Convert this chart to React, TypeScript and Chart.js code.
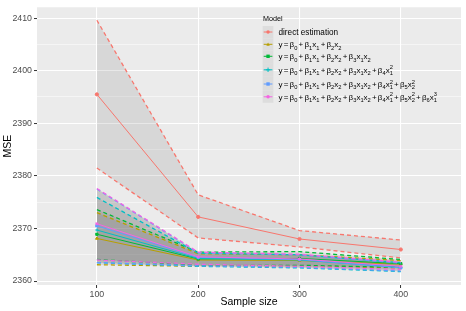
import React, { useEffect, useRef } from "react";
import { Chart, registerables } from "chart.js";

Chart.register(...registerables);

const sampleSizes = [100, 200, 300, 400];

const modelLabels = [
  "direct estimation",
  "y = β_0 + β_1x_1 + β_2x_2",
  "y = β_0 + β_1x_1 + β_2x_2 + β_3x_1x_2",
  "y = β_0 + β_1x_1 + β_2x_2 + β_3x_1x_2 + β_4x_1^2",
  "y = β_0 + β_1x_1 + β_2x_2 + β_3x_1x_2 + β_4x_1^2 + β_5x_2^2",
  "y = β_0 + β_1x_1 + β_2x_2 + β_3x_1x_2 + β_4x_1^2 + β_5x_2^2 + β_6x_1^3",
];

const modelColors = ["#F8766D", "#B79F00", "#00BA38", "#00BFC4", "#619CFF", "#F564E3"];
const modelShapes = ["circle", "triangle", "rect", "cross", "rect", "star"];

const directMean = [2395.5, 2372.2, 2368.0, 2366.0];
const directUpper = [2409.6, 2376.4, 2369.6, 2367.8];
const directLower = [2381.5, 2368.2, 2366.5, 2364.4];

const m1Mean = [2368.1, 2364.0, 2363.9, 2363.2];
const m1Upper = [2373.0, 2365.2, 2365.0, 2363.9];
const m1Lower = [2363.1, 2362.8, 2362.8, 2362.5];

const m2Mean = [2368.9, 2364.2, 2364.3, 2363.3];
const m2Upper = [2373.6, 2365.5, 2365.6, 2364.1];
const m2Lower = [2364.1, 2363.0, 2363.0, 2362.6];

const m3Mean = [2369.7, 2364.3, 2364.0, 2362.6];
const m3Upper = [2375.9, 2365.3, 2365.0, 2363.5];
const m3Lower = [2363.5, 2362.8, 2362.5, 2361.8];

const m4Mean = [2370.5, 2364.5, 2364.1, 2362.5];
const m4Upper = [2377.5, 2365.4, 2365.0, 2363.4];
const m4Lower = [2363.5, 2362.9, 2362.6, 2361.9];

const m5Mean = [2370.9, 2364.6, 2364.2, 2362.8];
const m5Upper = [2377.6, 2365.5, 2365.1, 2363.6];
const m5Lower = [2364.0, 2363.2, 2362.8, 2362.2];

const means = [directMean, m1Mean, m2Mean, m3Mean, m4Mean, m5Mean];
const uppers = [directUpper, m1Upper, m2Upper, m3Upper, m4Upper, m5Upper];
const lowers = [directLower, m1Lower, m2Lower, m3Lower, m4Lower, m5Lower];

const yTicks = [2360, 2365, 2370, 2375, 2380, 2385, 2390, 2395, 2400, 2405, 2410];
const xTicks = [100, 200, 300, 400];

const legendTitle = "Model";
const xTitle = "Sample size";
const yTitle = "MSE";

const FONT = '"Liberation Sans", Arial, sans-serif';
const RIBBON = "rgba(120,120,120,0.17)";

function drawMath(ctx: CanvasRenderingContext2D, label: string, x: number, baseline: number, size: number, spaceW: number) {
  const sub = size * 0.72;
  let cx = x;
  let i = 0;
  while (i < label.length) {
    const ch = label[i];
    if (ch === "_" || ch === "^") {
      const s = label[i + 1];
      let sp = "";
      let adv = 0;
      if (ch === "_" && label[i + 2] === "^") {
        sp = label[i + 3];
        i += 4;
      } else {
        i += 2;
      }
      ctx.font = `${sub}px ${FONT}`;
      if (ch === "_") {
        ctx.fillText(s, cx, baseline + size * 0.28);
        adv = ctx.measureText(s).width;
        if (sp) {
          ctx.fillText(sp, cx, baseline - size * 0.42);
          adv = Math.max(adv, ctx.measureText(sp).width);
        }
      } else {
        ctx.fillText(s, cx, baseline - size * 0.42);
        adv = ctx.measureText(s).width;
      }
      cx += adv;
    } else if (ch === " ") {
      cx += spaceW;
      i += 1;
    } else {
      ctx.font = `${size}px ${FONT}`;
      ctx.fillText(ch, cx, baseline);
      cx += ctx.measureText(ch).width;
      i += 1;
    }
  }
}

function drawShape(ctx: CanvasRenderingContext2D, shape: string, x: number, y: number, color: string) {
  ctx.save();
  ctx.fillStyle = color;
  ctx.strokeStyle = color;
  ctx.lineWidth = 1;
  const r = 1.7;
  ctx.beginPath();
  if (shape === "circle") {
    ctx.arc(x, y, r, 0, Math.PI * 2);
    ctx.fill();
  } else if (shape === "triangle") {
    ctx.moveTo(x, y - r);
    ctx.lineTo(x + r, y + r * 0.8);
    ctx.lineTo(x - r, y + r * 0.8);
    ctx.closePath();
    ctx.fill();
  } else if (shape === "rect") {
    ctx.rect(x - r, y - r, 2 * r, 2 * r);
    ctx.fill();
  } else if (shape === "cross") {
    ctx.moveTo(x - r - 0.5, y);
    ctx.lineTo(x + r + 0.5, y);
    ctx.moveTo(x, y - r - 0.5);
    ctx.lineTo(x, y + r + 0.5);
    ctx.stroke();
  } else {
    ctx.arc(x, y, r, 0, Math.PI * 2);
    ctx.fill();
  }
  ctx.restore();
}

const decorPlugin = {
  id: "decor",
  beforeDraw(chart: any) {
    const { ctx, chartArea } = chart;
    ctx.save();
    ctx.fillStyle = "#EBEBEB";
    ctx.fillRect(chartArea.left, chartArea.top, chartArea.right - chartArea.left, chartArea.bottom - chartArea.top);
    ctx.restore();
  },
  afterDraw(chart: any) {
    const { ctx, chartArea } = chart;
    ctx.save();
    ctx.fillStyle = "#000000";
    ctx.font = `10.5px ${FONT}`;
    ctx.textAlign = "center";
    ctx.textBaseline = "middle";
    ctx.fillText(xTitle, (chartArea.left + chartArea.right) / 2, 302);
    ctx.save();
    ctx.translate(8, (chartArea.top + chartArea.bottom) / 2);
    ctx.rotate(-Math.PI / 2);
    ctx.fillText(yTitle, 0, 0);
    ctx.restore();

    ctx.textAlign = "left";
    ctx.textBaseline = "alphabetic";
    ctx.font = `7.2px ${FONT}`;
    ctx.fillStyle = "#000000";
    ctx.fillText(legendTitle, 263, 21);
    const centers = [32, 44.3, 56.3, 69.8, 84, 96.8];
    const keyX = 262.7;
    const keyW = 10.7;
    for (let k = 0; k < modelLabels.length; k++) {
      const top = k === 0 ? centers[0] - 6 : (centers[k - 1] + centers[k]) / 2;
      const bot = k === modelLabels.length - 1 ? centers[k] + 6 : (centers[k] + centers[k + 1]) / 2;
      ctx.fillStyle = "#F2F2F2";
      ctx.fillRect(keyX, top, keyW, bot - top);
      ctx.fillStyle = RIBBON;
      ctx.fillRect(keyX, top, keyW, bot - top);
      ctx.strokeStyle = modelColors[k];
      ctx.lineWidth = 1;
      ctx.beginPath();
      ctx.moveTo(keyX + 1, centers[k]);
      ctx.lineTo(keyX + keyW - 1, centers[k]);
      ctx.stroke();
      drawShape(ctx, modelShapes[k], keyX + keyW / 2, centers[k], modelColors[k]);
      ctx.fillStyle = "#000000";
      if (k === 0) drawMath(ctx, modelLabels[k], 278.5, centers[k] + 3, 8.2, 8.2 * 0.278);
      else drawMath(ctx, modelLabels[k], 278.5, centers[k] + 3, 8.0, 1.2);
    }
    ctx.restore();
  },
};

export default function App() {
  const ref = useRef<HTMLCanvasElement>(null);
  useEffect(() => {
    document.body.style.margin = "0";
    const datasets: any[] = [];
    for (let k = modelLabels.length - 1; k >= 0; k--) {
      const color = modelColors[k];
      datasets.push({
        label: modelLabels[k] + " lower",
        data: sampleSizes.map((x, i) => ({ x, y: lowers[k][i] })),
        borderColor: color,
        borderDash: [4, 3],
        borderWidth: 1.3,
        pointRadius: 0,
        fill: false,
      });
      datasets.push({
        label: modelLabels[k] + " upper",
        data: sampleSizes.map((x, i) => ({ x, y: uppers[k][i] })),
        borderColor: color,
        borderDash: [4, 3],
        borderWidth: 1.3,
        pointRadius: 0,
        fill: "-1",
        backgroundColor: RIBBON,
      });
      datasets.push({
        label: modelLabels[k],
        data: sampleSizes.map((x, i) => ({ x, y: means[k][i] })),
        borderColor: color,
        backgroundColor: color,
        borderWidth: 1,
        pointRadius: 1.6,
        pointStyle: modelShapes[k],
        pointBorderWidth: 1,
        fill: false,
      });
    }
    const chart = new Chart(ref.current!, {
      type: "line",
      data: { datasets },
      options: {
        animation: false,
        responsive: false,
        layout: { padding: { top: 3, right: 4, left: 0, bottom: 0 } },
        plugins: {
          legend: { display: false },
          tooltip: { enabled: false },
          filler: { drawTime: "beforeDatasetsDraw" },
        } as any,
        scales: {
          x: {
            type: "linear",
            min: 40.9,
            max: 459.4,
            afterFit: (s: any) => {
              s.height = 26;
            },
            afterBuildTicks: (s: any) => {
              s.ticks = xTicks.map((v) => ({ value: v }));
            },
            grid: {
              color: "#FFFFFF",
              lineWidth: 1.07,
              tickColor: "#333333",
              tickLength: 3,
              tickWidth: 1,
            },
            border: { display: false },
            ticks: {
              color: "#4D4D4D",
              font: { family: FONT, size: 8.8 },
              padding: 1,
              maxRotation: 0,
              autoSkip: false,
              callback: (v: any) => String(v),
            },
          },
          y: {
            type: "linear",
            min: 2359.25,
            max: 2412.06,
            afterFit: (s: any) => {
              s.width = 37;
            },
            afterBuildTicks: (s: any) => {
              s.ticks = yTicks.map((v) => ({ value: v }));
            },
            grid: {
              color: "#FFFFFF",
              lineWidth: (c: any) => (c.tick && c.tick.value % 10 === 0 ? 1.07 : 0.53),
              tickColor: (c: any) => (c.tick && c.tick.value % 10 === 0 ? "#333333" : "rgba(0,0,0,0)"),
              tickLength: 3,
              tickWidth: 1,
            },
            border: { display: false },
            ticks: {
              color: "#4D4D4D",
              font: { family: FONT, size: 8.8 },
              padding: 2,
              autoSkip: false,
              callback: (v: any) => (v % 10 === 0 ? String(v) : ""),
            },
          },
        },
      },
      plugins: [decorPlugin],
    });
    return () => chart.destroy();
  }, []);
  return <canvas ref={ref} width={466} height={311} style={{ display: "block" }} />;
}
